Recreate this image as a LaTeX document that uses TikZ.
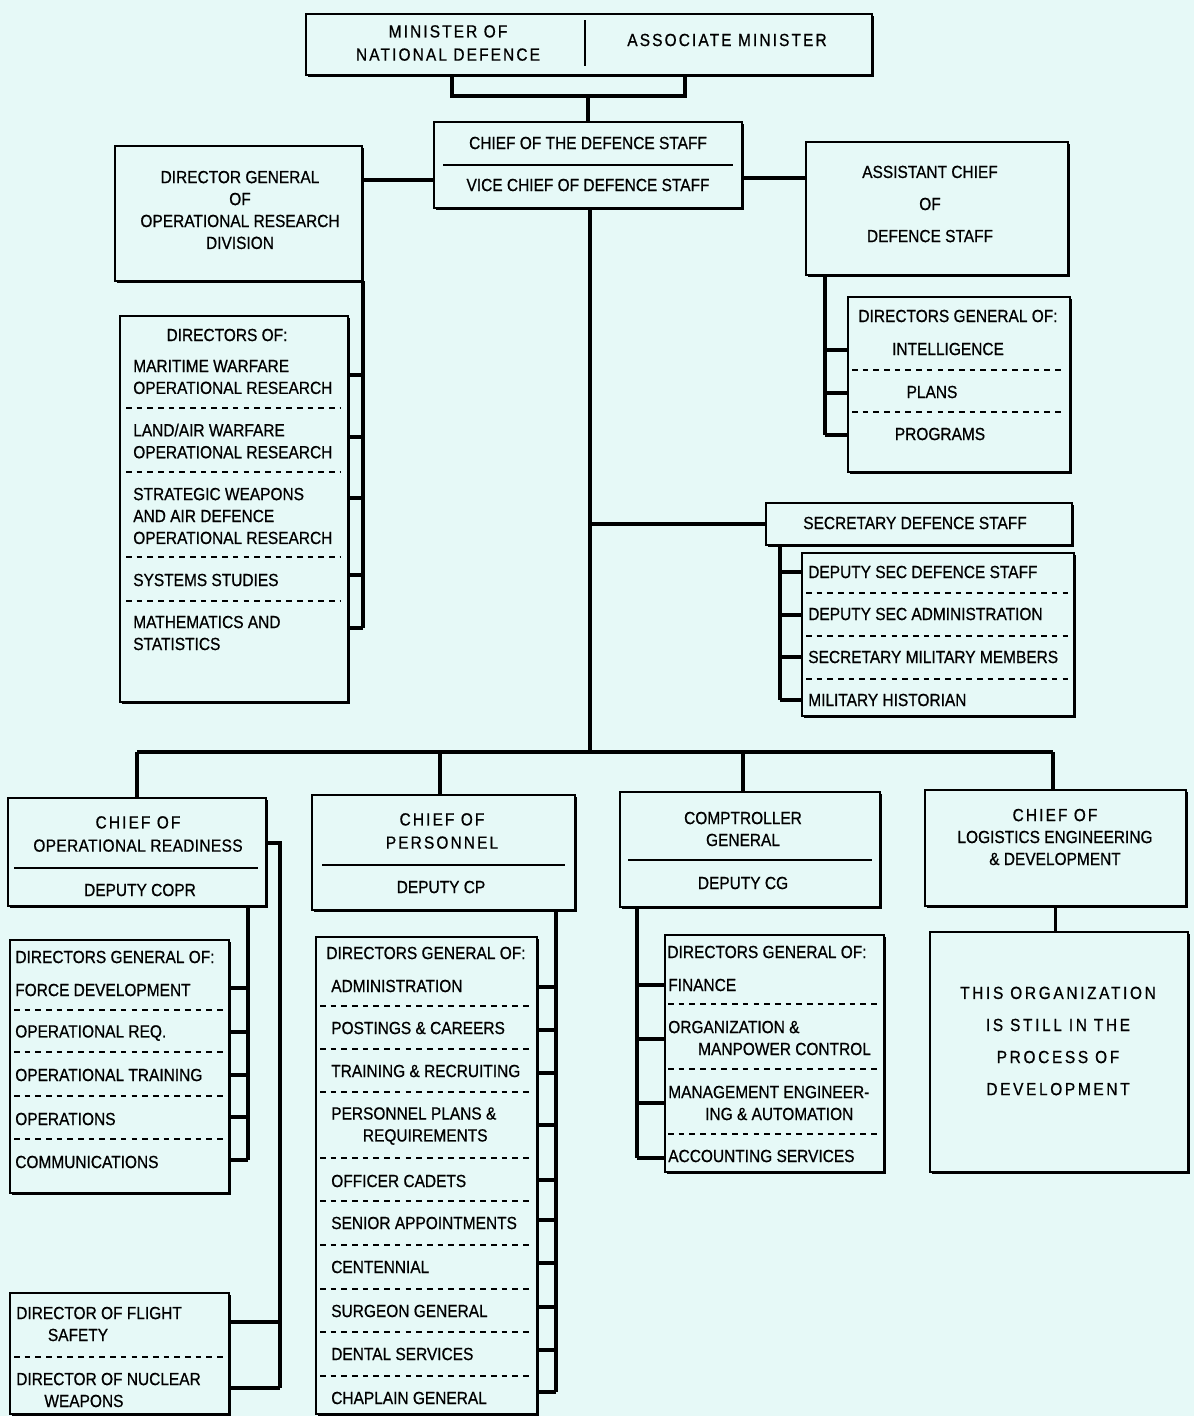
\documentclass[tikz,border=0pt]{standalone}
\usepackage{fontspec}
\newfontfamily\orgfont{Liberation Sans}[FakeStretch=0.88, FakeBold=0.7]
\definecolor{paper}{RGB}{230,249,247}
\tikzset{
  unit/.style={draw, line width=0.9pt, fill=paper, anchor=north west,
    inner sep=0pt, outer sep=0pt,
    append after command={\pgfextra{\let\boxnode\tikzlastnode
      \draw[line width=2.6pt] ([yshift=-1.5pt]\boxnode.north east)
        -- (\boxnode.south east) -- ([xshift=1.5pt]\boxnode.south west);}}},
  boxsize/.style 2 args={minimum width=#1*0.025cm, minimum height=#2*0.025cm},
  txt/.style={font=\orgfont\fontsize{12.5}{15.6}\selectfont, inner sep=0pt, align=center},
  loose/.style={txt, font=\orgfont\fontsize{12.5}{22.8}\selectfont},
  spaced/.style={txt, font=\orgfont\fontsize{12.5}{16.5}\selectfont\addfontfeature{LetterSpace=12}},
  item/.style={txt, align=left, anchor=west},
  link/.style={line width=2.6pt},
  tick/.style={line width=2.2pt},
  rule/.style={line width=1pt},
  sep/.style={line width=0.9pt, dash pattern=on 4pt off 3.6pt}
}
\begin{document}
\begin{tikzpicture}[x=0.025cm, y=-0.025cm]
\useasboundingbox (0,0) rectangle (1194,1416);
\fill[paper] (0,0) rectangle (1194,1416);

% ministers
\node[unit, boxsize={566}{61}] (minister) at (306,14) {};
\draw[rule] (585,20) -- (585,66);
\node[spaced] (mnd) at (448,43) {MINISTER OF\\NATIONAL DEFENCE};
\node[spaced] (assoc) at (727,40) {ASSOCIATE MINISTER};

% chief of the defence staff
\node[unit, boxsize={308}{86}] (cds) at (434,122) {};
\draw[rule] (443,165) -- (733,165);
\node[txt] (cdstop) at (588,143) {CHIEF OF THE DEFENCE STAFF};
\node[txt] (vcds) at (588,185) {VICE CHIEF OF DEFENCE STAFF};

\coordinate (mL) at (452,75);
\coordinate (mbar) at (588,96);
\coordinate (mR) at (685,75);
\draw[link] (mL) |- (mbar) -| (mR);
\draw[link] (mbar) -- (cds.north);

% operational research
\node[unit, boxsize={247}{135}] (dgor) at (115,146) {};
\node[txt] (dgortxt) at (240,210) {DIRECTOR GENERAL\\OF\\OPERATIONAL RESEARCH\\DIVISION};
\node[unit, boxsize={228}{386}] (dgordir) at (120,316) {};
\node[txt] (ordir) at (227,335) {DIRECTORS OF:};
\node[item] (or1) at (133,377) {MARITIME WARFARE\\OPERATIONAL RESEARCH};
\node[item] (or2) at (133,441) {LAND/AIR WARFARE\\OPERATIONAL RESEARCH};
\node[item] (or3) at (133,516) {STRATEGIC WEAPONS\\AND AIR DEFENCE\\OPERATIONAL RESEARCH};
\node[item] (or4) at (133,580) {SYSTEMS STUDIES};
\node[item] (or5) at (133,633) {MATHEMATICS AND\\STATISTICS};
\foreach \y in {408,472,557,601}
  \draw[sep] (126,\y) -- (340,\y);
\coordinate (orspine) at (363,628);
\draw[link] (dgor.south -| orspine) -- (orspine);
\foreach \y in {375,437,498,575,628}
  \draw[tick] (orspine |- 0,\y) -- (dgordir.east |- 0,\y);
\draw[link] (cds.west |- 0,180) -- (dgor.east |- 0,180);

% assistant chief
\node[unit, boxsize={262}{133}] (acds) at (806,142) {};
\node[loose] (acdstxt) at (930,204) {ASSISTANT CHIEF\\OF\\DEFENCE STAFF};
\node[unit, boxsize={222}{175}] (acdsdg) at (848,297) {};
\node[txt] (acdshead) at (958,316) {DIRECTORS GENERAL OF:};
\node[txt] (intel) at (948,349) {INTELLIGENCE};
\node[txt] (plans) at (932,392) {PLANS};
\node[txt] (progs) at (940,434) {PROGRAMS};
\foreach \y in {370,412}
  \draw[sep] (852,\y) -- (1064,\y);
\coordinate (acspine) at (825,435);
\draw[link] (acds.south -| acspine) -- (acspine);
\foreach \y in {350,393,435}
  \draw[tick] (acspine |- 0,\y) -- (acdsdg.west |- 0,\y);
\draw[link] (cds.east |- 0,178) -- (acds.west |- 0,178);

% secretary
\node[unit, boxsize={306}{42}] (sds) at (766,503) {};
\node[txt] (sdstxt) at (915,523) {SECRETARY DEFENCE STAFF};
\node[unit, boxsize={272}{163}] (sdssub) at (802,553) {};
\node[item] (sec1) at (808,572) {DEPUTY SEC DEFENCE STAFF};
\node[item] (sec2) at (808,614) {DEPUTY SEC ADMINISTRATION};
\node[item] (sec3) at (808,657) {SECRETARY MILITARY MEMBERS};
\node[item] (sec4) at (808,700) {MILITARY HISTORIAN};
\foreach \y in {593,636,679}
  \draw[sep] (806,\y) -- (1068,\y);
\coordinate (secspine) at (780,700);
\draw[link] (sds.south -| secspine) -- (secspine);
\foreach \y in {572,615,657,700}
  \draw[tick] (secspine |- 0,\y) -- (sdssub.west |- 0,\y);

% main spine and bar
\coordinate (hub) at (590,752);
\coordinate (b1) at (137,752);
\coordinate (b2) at (440,752);
\coordinate (b3) at (743,752);
\coordinate (b4) at (1053,752);
\draw[link] (cds.south -| hub) -- (hub);
\draw[link] (hub |- sds.west) -- (sds.west);
\draw[link] (b1) -- (b4);

% operational readiness
\node[unit, boxsize={258}{108}] (copr) at (8,798) {};
\node[spaced] (coprtop) at (138,834) {CHIEF OF\\\addfontfeature{LetterSpace=2}OPERATIONAL READINESS};
\draw[rule] (14,868) -- (258,868);
\node[txt] (dcopr) at (140,890) {DEPUTY COPR};
\node[unit, boxsize={219}{253}] (coprdg) at (10,940) {};
\node[txt] (coprhead) at (115,957) {DIRECTORS GENERAL OF:};
\node[item] (op1) at (15,990) {FORCE DEVELOPMENT};
\node[item] (op2) at (15,1033) {OPERATIONAL REQ.};
\node[item] (op3) at (15,1075) {OPERATIONAL TRAINING};
\node[item] (op4) at (15,1119) {OPERATIONS};
\node[item] (op5) at (15,1162) {COMMUNICATIONS};
\foreach \y in {1010,1052,1096,1139}
  \draw[sep] (14,\y) -- (225,\y);
\coordinate (opspine) at (248,1160);
\draw[link] (copr.south -| opspine) -- (opspine);
\foreach \y in {988,1032,1075,1117,1160}
  \draw[tick] (opspine |- 0,\y) -- (coprdg.east |- 0,\y);
\node[unit, boxsize={219}{121}] (flight) at (10,1293) {};
\node[item] (fs1) at (16,1324) {DIRECTOR OF FLIGHT\\\hspace*{1.8em}SAFETY};
\node[item] (fs2) at (16,1390) {DIRECTOR OF NUCLEAR\\\hspace*{1.6em}WEAPONS};
\draw[sep] (14,1357) -- (225,1357);
\coordinate (fsspine) at (280,1388);
\draw[link] (copr.east |- 0,843) -| (fsspine);
\foreach \y in {1322,1388}
  \draw[tick] (fsspine |- 0,\y) -- (flight.east |- 0,\y);
\draw[link] (b1) -- (b1 |- copr.north);

% personnel
\node[unit, boxsize={263}{115}] (cp) at (312,795) {};
\node[spaced] (cptop) at (442,831) {CHIEF OF\\PERSONNEL};
\draw[rule] (322,865) -- (565,865);
\node[txt] (dcp) at (441,887) {DEPUTY CP};
\node[unit, boxsize={221}{477}] (cpdg) at (316,937) {};
\node[txt] (cphead) at (426,953) {DIRECTORS GENERAL OF:};
\node[item] (pe1) at (331,986) {ADMINISTRATION};
\node[item] (pe2) at (331,1028) {POSTINGS \& CAREERS};
\node[item] (pe3) at (331,1071) {TRAINING \& RECRUITING};
\node[item] (pe4) at (331,1126) {PERSONNEL PLANS \&\\\hspace*{1.8em}REQUIREMENTS};
\node[item] (pe5) at (331,1181) {OFFICER CADETS};
\node[item] (pe6) at (331,1223) {SENIOR APPOINTMENTS};
\node[item] (pe7) at (331,1267) {CENTENNIAL};
\node[item] (pe8) at (331,1311) {SURGEON GENERAL};
\node[item] (pe9) at (331,1354) {DENTAL SERVICES};
\node[item] (pe10) at (331,1398) {CHAPLAIN GENERAL};
\foreach \y in {1006,1049,1092,1158,1201,1245,1289,1332,1376}
  \draw[sep] (320,\y) -- (530,\y);
\coordinate (pespine) at (556,1392);
\draw[link] (cp.south -| pespine) -- (pespine);
\foreach \y in {987,1030,1073,1125,1180,1220,1263,1307,1350,1392}
  \draw[tick] (pespine |- 0,\y) -- (cpdg.east |- 0,\y);
\draw[link] (b2) -- (b2 |- cp.north);

% comptroller
\node[unit, boxsize={260}{115}] (cg) at (620,792) {};
\node[txt] (cgtop) at (743,829) {COMPTROLLER\\GENERAL};
\draw[rule] (628,860) -- (872,860);
\node[txt] (dcg) at (743,883) {DEPUTY CG};
\node[unit, boxsize={219}{237}] (cgdg) at (665,935) {};
\node[txt] (cghead) at (767,952) {DIRECTORS GENERAL OF:};
\node[item] (cg1) at (668,985) {FINANCE};
\node[item] (cg2) at (668,1038) {ORGANIZATION \&\\\hspace*{1.7em}MANPOWER CONTROL};
\node[item] (cg3) at (668,1103) {MANAGEMENT ENGINEER-\\\hspace*{2.1em}ING \& AUTOMATION};
\node[item] (cg4) at (668,1156) {ACCOUNTING SERVICES};
\foreach \y in {1004,1069,1134}
  \draw[sep] (668,\y) -- (880,\y);
\coordinate (cgspine) at (637,1158);
\draw[link] (cg.south -| cgspine) -- (cgspine);
\foreach \y in {985,1039,1103,1158}
  \draw[tick] (cgspine |- 0,\y) -- (cgdg.west |- 0,\y);
\draw[link] (b3) -- (b3 |- cg.north);

% logistics
\node[unit, boxsize={261}{116}] (cled) at (925,790) {};
\node[txt] (cledtxt) at (1055,837) {{\addfontfeature{LetterSpace=12}CHIEF OF}\\LOGISTICS ENGINEERING\\\& DEVELOPMENT};
\node[unit, boxsize={258}{240}] (cledbox) at (930,932) {};
\node[loose, font=\orgfont\fontsize{12.5}{22.8}\selectfont\addfontfeature{LetterSpace=15}] (cledtbd) at (1058,1041)
  {THIS ORGANIZATION\\IS STILL IN THE\\PROCESS OF\\DEVELOPMENT};
\draw[link] (cled.south) -- (cled.south |- cledbox.north);
\draw[link] (b4) -- (b4 |- cled.north);
\end{tikzpicture}
\end{document}
